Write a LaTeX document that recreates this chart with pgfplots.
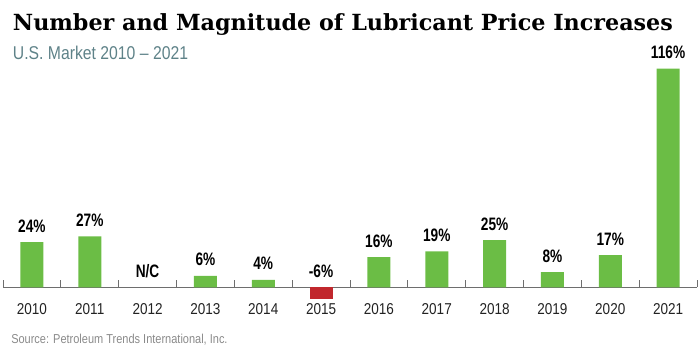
\documentclass[border=0pt]{standalone}
\usepackage{pgfplots}
\pgfplotsset{compat=1.18}
\usepackage{fontspec}
\setmainfont{Liberation Sans}
\newfontfamily\condfont{Liberation Sans}[FakeStretch=0.86]
\newfontfamily\valfont{Liberation Sans}[FakeStretch=0.76]
\newfontfamily\subfont{Liberation Sans}[FakeStretch=0.85]
\newfontfamily\titlefont{DejaVu Serif}
\definecolor{bargreen}{HTML}{6BBD45}
\definecolor{barred}{HTML}{C1272D}
\definecolor{subcol}{HTML}{5E8288}
\definecolor{axisgray}{HTML}{6E6E6E}
\definecolor{labelcol}{HTML}{222222}
\definecolor{srccol}{HTML}{8A8A8A}
\begin{document}
\begin{tikzpicture}
\path[use as bounding box] (0,0) rectangle (525pt,264.75pt);
\node[anchor=base west, inner sep=0pt] at (9.5pt,241.7pt)
  {\resizebox{495pt}{!}{\titlefont\bfseries\fontsize{17}{20}\selectfont Number and Magnitude of Lubricant Price Increases}};
\node[anchor=base west, inner sep=0pt, text=subcol] at (9.5pt,219.75pt)
  {\subfont\fontsize{13.9}{16}\selectfont U.S. Market 2010 \textendash{} 2021};
\node[anchor=base west, inner sep=0pt, text=srccol] at (8.25pt,7.3pt)
  {\subfont\fontsize{9.7}{11}\selectfont Source: Petroleum Trends International, Inc.};
\begin{axis}[
  at={(2.25pt,35.14pt)}, anchor=south west,
  scale only axis, width=520.5pt, height=183.8pt,
  xmin=-0.5, xmax=11.5, ymin=-10, ymax=120,
  axis x line=middle, axis y line=none,
  x axis line style={-, draw=axisgray, line width=0.75pt},
  xtick={0,1,2,3,4,5,6,7,8,9,10,11},
  xticklabels={2010,2011,2012,2013,2014,2015,2016,2017,2018,2019,2020,2021},
  major tick length=0pt,
  minor xtick={-0.5,0.5,1.5,2.5,3.5,4.5,5.5,6.5,7.5,8.5,9.5,10.5,11.5},
  minor tick length=5.25pt,
  tick align=inside,
  minor tick style={draw=axisgray, line width=0.75pt},
  xticklabel style={font=\condfont\fontsize{11.8}{13}\selectfont, text=labelcol, inner sep=0pt, anchor=north, yshift=-12.3pt},
  clip=false,
]
\addplot[ybar, bar width=17.25pt, bar shift=0pt, fill=bargreen, draw=none]
  coordinates {(0,24) (1,27) (3,6) (4,4) (6,16) (7,19) (8,25) (9,8) (10,17) (11,116)};
\addplot[ybar, bar width=17.25pt, bar shift=0pt, fill=barred, draw=none]
  coordinates {(5,-6)};
\addplot[draw=none, mark=none, nodes near coords, point meta=explicit symbolic,
  every node near coord/.style={anchor=south, inner sep=0pt, yshift=7.2pt, text=black,
    font=\valfont\bfseries\fontsize{13.5}{15}\selectfont}]
  coordinates {(0,24)[24\%] (1,27)[27\%] (2,0)[N/C] (3,6)[6\%] (4,4)[4\%] (5,0)[-6\%]
    (6,16)[16\%] (7,19)[19\%] (8,25)[25\%] (9,8)[8\%] (10,17)[17\%] (11,116)[116\%]};
\end{axis}
\end{tikzpicture}
\end{document}
